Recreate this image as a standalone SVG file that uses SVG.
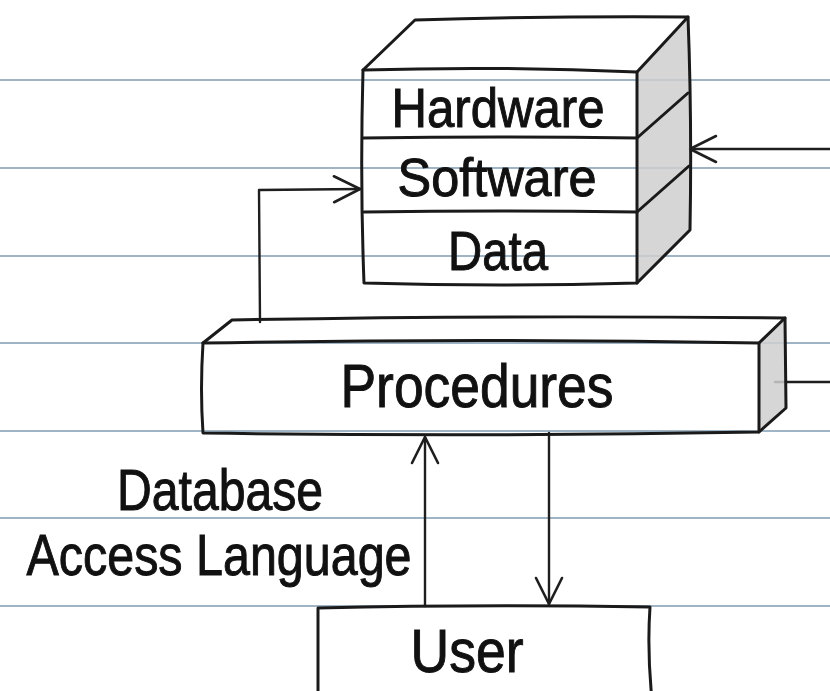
<svg xmlns="http://www.w3.org/2000/svg" width="830" height="691" viewBox="0 0 830 691">
<defs>
<marker id="arr" markerUnits="userSpaceOnUse" markerWidth="32" markerHeight="32" viewBox="0 0 32 32" refX="29" refY="16" orient="auto">
<path d="M3,3 L29,16 L3,29" fill="none" stroke="#1e1e1e" stroke-width="2.6" stroke-linecap="round" stroke-linejoin="round"/>
</marker>
<style>
.rule{stroke:#9fb5c6;stroke-width:2.2;fill:none}
.edge{fill:none;stroke:#1a1a1a;stroke-width:3;stroke-linecap:round;stroke-linejoin:round}
.conn{fill:none;stroke:#1e1e1e;stroke-width:2.4;stroke-linecap:round;stroke-linejoin:round}
.side{fill:#cfcfcf;fill-opacity:0.85}
.lbl{font-family:"Liberation Sans",Arial,sans-serif;fill:#111;stroke:#111;stroke-width:1;text-anchor:middle}
</style>
</defs>
<rect width="830" height="691" fill="#ffffff"/>
<g id="ruling">
<line class="rule" x1="0" y1="80" x2="830" y2="80"/>
<line class="rule" x1="0" y1="168" x2="830" y2="168"/>
<line class="rule" x1="0" y1="256" x2="830" y2="256"/>
<line class="rule" x1="0" y1="343" x2="830" y2="343"/>
<line class="rule" x1="0" y1="431" x2="830" y2="431"/>
<line class="rule" x1="0" y1="518" x2="830" y2="518"/>
<line class="rule" x1="0" y1="606" x2="830" y2="606"/>
</g>
<g id="connectors">
<path class="conn" d="M260,322 L259,190 L360,189" marker-end="url(#arr)"/>
<path class="conn" d="M830,149 L690,149" marker-end="url(#arr)"/>
<path class="conn" d="M775,382 L830,382"/>
<path class="conn" d="M425,606 L425,437" marker-end="url(#arr)"/>
<path class="conn" d="M549,433 L549,604" marker-end="url(#arr)"/>
</g>
<g id="system">
<path class="side" d="M637,72 L688,17 Q692,120 690,230 L637,283 Z"/>
<path class="edge" d="M363,70 Q500,66 637,72 L637,283 Q500,287 364,283 Q360,180 363,70 Z"/>
<path class="edge" d="M363,138 Q500,136 637,138 M364,212 Q500,210 637,212"/>
<path class="edge" d="M363,70 L415,20 Q550,16 688,17 L637,72"/>
<path class="edge" d="M688,17 Q692,120 690,230 L637,283"/>
<path class="edge" d="M637,138 L688,93 M637,212 L689,166"/>
<text class="lbl" x="498" y="127" font-size="55" textLength="213" lengthAdjust="spacingAndGlyphs">Hardware</text>
<text class="lbl" x="497" y="196" font-size="53" textLength="199" lengthAdjust="spacingAndGlyphs">Software</text>
<text class="lbl" x="498" y="270" font-size="55" textLength="100" lengthAdjust="spacingAndGlyphs">Data</text>
</g>
<g id="procedures">
<path class="side" d="M759,343 L785,318 L786,408 L759,432 Z"/>
<path class="edge" d="M203,343 Q480,338 759,343 L759,432 Q480,437 203,433 Q200,390 203,343 Z"/>
<path class="edge" d="M203,343 L232,320 Q500,315 785,318 L759,343"/>
<path class="edge" d="M785,318 L786,408 L759,432"/>
<text class="lbl" x="477" y="407" font-size="62" textLength="273" lengthAdjust="spacingAndGlyphs">Procedures</text>
</g>
<g id="user">
<path class="edge" d="M318,700 L318,608 Q480,604 650,607 Q647,650 652,700"/>
<text class="lbl" x="467" y="672" font-size="62" textLength="113" lengthAdjust="spacingAndGlyphs">User</text>
</g>
<g id="label-dal">
<text class="lbl" x="220" y="510" font-size="58" textLength="206" lengthAdjust="spacingAndGlyphs">Database</text>
<text class="lbl" x="219" y="575" font-size="58" textLength="385" lengthAdjust="spacingAndGlyphs">Access Language</text>
</g>
</svg>
